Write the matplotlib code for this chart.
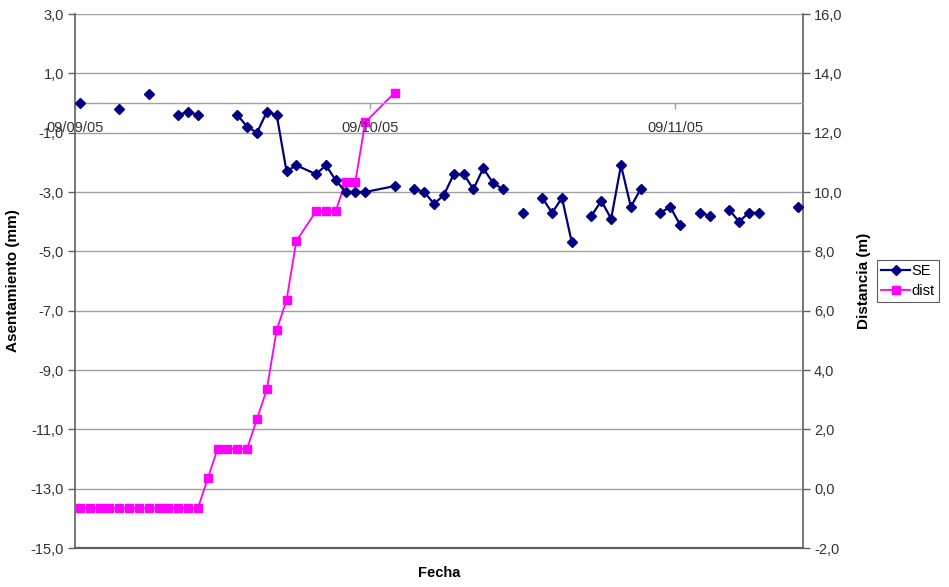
import numpy as np
import pandas as pd
import matplotlib
matplotlib.use("Agg")
import matplotlib.pyplot as plt
import matplotlib.dates as mdates
from matplotlib.ticker import FuncFormatter, FixedLocator

plt.rcParams['font.family'] = ['Liberation Sans', 'DejaVu Sans']

nan = np.nan

# Fechas de lectura (dd/mm/yy en el eje)
fechas = [
    "2005-09-09", "2005-09-10", "2005-09-11", "2005-09-12", "2005-09-13", "2005-09-14",
    "2005-09-15", "2005-09-16", "2005-09-17", "2005-09-18", "2005-09-19", "2005-09-20",
    "2005-09-21", "2005-09-22", "2005-09-23", "2005-09-24", "2005-09-25", "2005-09-26",
    "2005-09-27", "2005-09-28", "2005-09-29", "2005-09-30", "2005-10-01",
    "2005-10-03", "2005-10-04", "2005-10-05", "2005-10-06", "2005-10-07", "2005-10-08",
    "2005-10-11", "2005-10-12", "2005-10-13", "2005-10-14", "2005-10-15", "2005-10-16",
    "2005-10-17", "2005-10-18", "2005-10-19", "2005-10-20", "2005-10-21", "2005-10-22",
    "2005-10-23", "2005-10-24", "2005-10-25", "2005-10-26", "2005-10-27", "2005-10-28",
    "2005-10-29", "2005-10-30", "2005-10-31",
    "2005-11-01", "2005-11-02", "2005-11-03", "2005-11-04", "2005-11-05", "2005-11-06",
    "2005-11-07", "2005-11-08", "2005-11-09", "2005-11-10", "2005-11-11", "2005-11-12",
    "2005-11-13", "2005-11-14", "2005-11-15", "2005-11-16", "2005-11-17", "2005-11-18",
    "2005-11-19", "2005-11-20", "2005-11-21",
]

# Asentamiento SE (mm); nan = sin lectura
se = [
    0.0, nan, nan, nan, -0.2, nan, nan, 0.3, nan, nan, -0.4, -0.3,
    -0.4, nan, nan, nan, -0.4, -0.8, -1.0, -0.3, -0.4, -2.3, -2.1,
    -2.4, -2.1, -2.6, -3.0, -3.0, -3.0,
    -2.8, nan, -2.9, -3.0, -3.4, -3.1, -2.4, -2.4, -2.9, -2.2, -2.7, -2.9,
    nan, -3.7, nan, -3.2, -3.7, -3.2, -4.7, nan, -3.8,
    -3.3, -3.9, -2.1, -3.5, -2.9, nan, -3.7, -3.5, -4.1, nan, -3.7, -3.8,
    nan, -3.6, -4.0, -3.7, -3.7, nan, nan, nan, -3.5,
]

# Distancia (m)
dist = [
    -0.65, -0.65, -0.65, -0.65, -0.65, -0.65, -0.65, -0.65, -0.65, -0.65,
    -0.65, -0.65, -0.65, 0.35, 1.35, 1.35, 1.35, 1.35, 2.35, 3.35, 5.35,
    6.35, 8.35, 9.35, 9.35, 9.35, 10.35, 10.35, 12.35, 13.35,
]

fechas_dt = pd.to_datetime(fechas) + pd.Timedelta(hours=12)
x_ticks = pd.to_datetime(["2005-09-09", "2005-10-09", "2005-11-09"])

W, H = 949, 587
fig = plt.figure(figsize=(W / 100, H / 100), dpi=100)
fig.patch.set_facecolor("white")

rect = [75 / W, 1 - 548 / H, 728 / W, 534 / H]
ax2 = fig.add_axes(rect)          # right axis (dist), drawn below
ax = fig.add_axes(rect, sharex=ax2)  # left axis (SE), drawn on top
ax.patch.set_visible(False)
ax2.set_zorder(1)
ax.set_zorder(2)

grid_c = "#a0a0a0"
spine_c = "#606060"
txt_c = "#333333"

# ---- right axis: dist
ax2.plot(fechas_dt[:len(dist)], dist, color="#ff00ff", lw=1.3, marker="s",
         ms=6, mec="#ff00ff", mfc="#ff00ff", zorder=3)
ax2.set_ylim(-2, 16)
ax2.yaxis.set_major_locator(FixedLocator(np.arange(-2, 16.1, 2)))
ax2.yaxis.tick_right()
ax2.yaxis.set_label_position("right")
ax2.grid(axis="y", color=grid_c, lw=1.0, zorder=0)
ax2.set_axisbelow(True)
ax2.yaxis.set_major_formatter(FuncFormatter(lambda v, p: f"{v:.1f}".replace(".", ",")))
ax2.tick_params(axis="y", direction="out", length=5, width=1, color=spine_c,
                labelsize=10.5, labelcolor=txt_c, pad=3)
ax2.tick_params(axis="x", bottom=False, labelbottom=False)
for s in ["top", "left", "bottom"]:
    ax2.spines[s].set_visible(False)
ax2.spines["right"].set_color(spine_c)
ax2.spines["right"].set_linewidth(1.2)
ax2.set_ylabel("Distancia (m)", fontsize=11, fontweight="bold", color="black",
               rotation=90)
ax2.yaxis.set_label_coords((857 - 75) / 728, 0.5)

# ---- left axis: SE
ax.plot(fechas_dt, se, color="#000080", lw=1.6, marker="D", ms=5,
        mec="#000080", mfc="#000080", zorder=3)
ax.set_ylim(-15, 3)
ax.yaxis.set_major_locator(FixedLocator(np.arange(-15, 3.1, 2)))
ax.yaxis.set_major_formatter(FuncFormatter(lambda v, p: f"{v:.1f}".replace(".", ",")))
ax.tick_params(axis="y", direction="out", length=5, width=1, color=spine_c,
               labelsize=10.5, labelcolor=txt_c, pad=3)
ax.set_xlim(pd.Timestamp("2005-09-09"), pd.Timestamp("2005-11-22"))
ax.xaxis.set_major_locator(FixedLocator(mdates.date2num(x_ticks)))
ax.xaxis.set_major_formatter(mdates.DateFormatter("%d/%m/%y"))
ax.tick_params(axis="x", direction="out", length=4, width=1, color=grid_c,
               labelsize=10.5, labelcolor=txt_c, pad=9)
ax.spines["bottom"].set_position(("data", 0))
ax.spines["bottom"].set_color(grid_c)
ax.spines["bottom"].set_linewidth(1.0)
ax.spines["top"].set_visible(False)
ax.spines["right"].set_visible(False)
ax.spines["left"].set_color(spine_c)
ax.spines["left"].set_linewidth(1.2)
ax.axhline(-15, color=spine_c, lw=1.6, clip_on=False, zorder=1)
ax.set_ylabel("Asentamiento (mm)", fontsize=11, fontweight="bold", color="black")
ax.yaxis.set_label_coords((20 - 75) / 728, 0.5)

fig.text(439 / W, 1 - 573 / H, "Fecha", ha="center", va="center",
         fontsize=10.5, fontweight="bold")

h1 = ax.get_lines()[0]
h2 = ax2.get_lines()[0]
leg = fig.legend([h1, h2], ["SE", "dist"], loc="center",
                 bbox_to_anchor=(908 / W, 1 - 281 / H), fontsize=10.5,
                 frameon=True, fancybox=False, handlelength=2.0,
                 handletextpad=0.1, borderpad=0.3, labelspacing=0.4,
                 borderaxespad=0)
leg.get_frame().set_edgecolor("#333333")
leg.get_frame().set_linewidth(0.8)

fig.savefig("out.png", dpi=100, facecolor="white")
